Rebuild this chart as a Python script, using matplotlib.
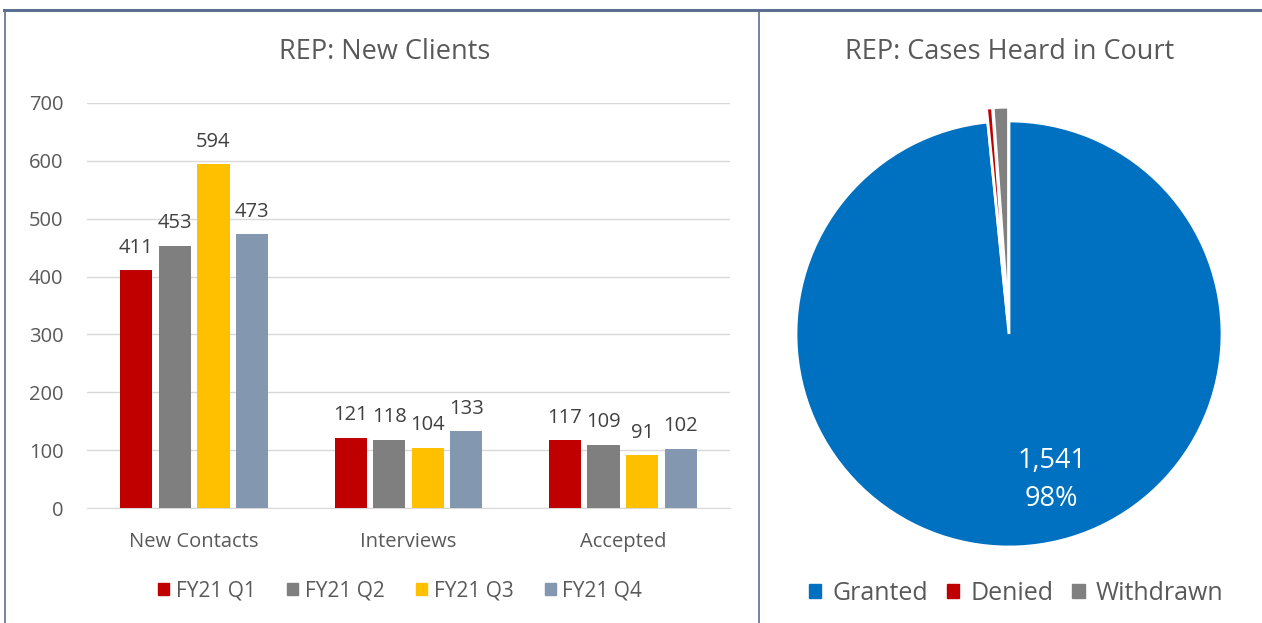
import numpy as np
import matplotlib.pyplot as plt
from matplotlib.lines import Line2D
from matplotlib.patches import Patch

# 数据
categories = ["New Contacts", "Interviews", "Accepted"]
quarters = ["FY21 Q1", "FY21 Q2", "FY21 Q3", "FY21 Q4"]
q1 = [411, 121, 117]
q2 = [453, 118, 109]
q3 = [594, 104, 91]
q4 = [473, 133, 102]
bar_colors = ["#C00000", "#7F7F7F", "#FFC000", "#8497B0"]

pie_labels = ["Granted", "Denied", "Withdrawn"]
pie_values = [1541, 7, 18]
pie_colors = ["#0070C0", "#C00000", "#808080"]

plt.rcParams["font.family"] = ["Open Sans", "DejaVu Sans"]
text_color = "#595959"

fig = plt.figure(figsize=(12.62, 6.23), dpi=100)
W, H = 1262, 623


def px_box(x0, y0, x1, y1):
    """像素坐标（左上原点）转成 figure 坐标"""
    return [x0 / W, 1 - y1 / H, (x1 - x0) / W, (y1 - y0) / H]


# -------------------- 柱状图 --------------------
ax = fig.add_axes(px_box(87, 103, 730, 508))
x = np.arange(len(categories))
width = 0.15
pitch = 0.18
series = [q1, q2, q3, q4]
for i, (vals, name, c) in enumerate(zip(series, quarters, bar_colors)):
    pos = x + (i - 1.5) * pitch
    bars = ax.bar(pos, vals, width, color=c, label=name, zorder=3)
    for b, v in zip(bars, vals):
        ax.annotate(str(v), (b.get_x() + b.get_width() / 2, v),
                    xytext=(0, 9), textcoords="offset points",
                    ha="center", va="bottom", fontsize=14.5, color="#404040")

ax.set_xlim(-0.5, 2.5)
ax.set_ylim(0, 700)
ax.set_yticks(range(0, 701, 100))
ax.grid(axis="y", color="#D9D9D9", linewidth=1, zorder=0)
ax.set_xticks(x)
ax.set_xticklabels(categories)
ax.tick_params(axis="both", length=0, labelsize=14.5, labelcolor=text_color)
ax.tick_params(axis="x", pad=17)
ax.tick_params(axis="y", pad=17)
for s in ["top", "right", "left"]:
    ax.spines[s].set_visible(False)
ax.spines["bottom"].set_color("#D9D9D9")

fig.text(385 / W, 1 - 52 / H, "REP: New Clients", ha="center", va="center",
         fontsize=19.5, color=text_color)

handles = [Patch(color=c, label=q) for c, q in zip(bar_colors, quarters)]
fig.legend(handles=handles, loc="center", bbox_to_anchor=(400 / W, 1 - 591 / H),
           ncol=4, frameon=False, fontsize=15, labelcolor=text_color,
           handlelength=0.56, handleheight=0.56, handletextpad=0.3,
           columnspacing=1.5)

# -------------------- 饼图 --------------------
cx, cy, r = 1009, 334, 213
pax = fig.add_axes(px_box(cx - 1.2 * r, cy - 1.2 * r, cx + 1.2 * r, cy + 1.2 * r))
wedges, _ = pax.pie(pie_values, colors=pie_colors, startangle=90,
                    counterclock=False, explode=[0, 0.065, 0.065],
                    wedgeprops=dict(edgecolor="white", linewidth=2))
pax.set_xlim(-1.2, 1.2)
pax.set_ylim(-1.2, 1.2)
pax.set_aspect("equal")
pax.axis("off")

total = sum(pie_values)
pax.text(0.20, -0.685, f"{pie_values[0]:,}\n{pie_values[0] / total:.0%}",
         ha="center", va="center", color="white", fontsize=19.5, linespacing=1.45)

fig.text(1010 / W, 1 - 52 / H, "REP: Cases Heard in Court", ha="center",
         va="center", fontsize=19.5, color=text_color)

handles = [Patch(color=c, label=l) for c, l in zip(pie_colors, pie_labels)]
fig.legend(handles=handles, loc="center", bbox_to_anchor=(1016 / W, 1 - 593 / H),
           ncol=3, frameon=False, fontsize=18, labelcolor=text_color,
           handlelength=0.5, handleheight=0.5, handletextpad=0.45,
           columnspacing=0.75)

# -------------------- 边框 --------------------
frame_color = "#5B7090"
fig.add_artist(Line2D([4 / W, 1], [1 - 10 / H] * 2, color=frame_color, linewidth=2.2))
fig.add_artist(Line2D([4.5 / W] * 2, [0, 1 - 10 / H], color=frame_color, linewidth=1.2))
fig.add_artist(Line2D([758.5 / W] * 2, [0, 1 - 10 / H], color=frame_color, linewidth=1.2))

fig.savefig("out.png", dpi=100)
